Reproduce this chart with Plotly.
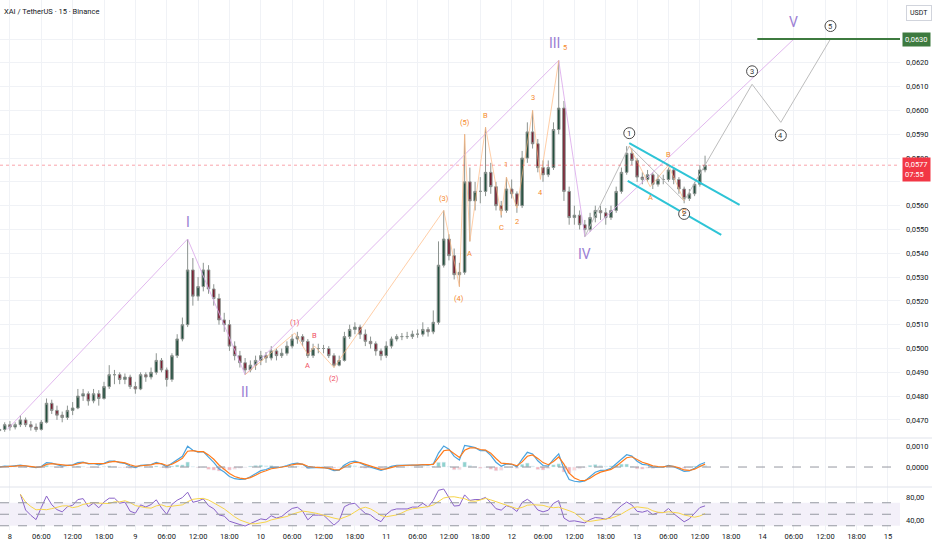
import pandas as pd
import plotly.graph_objects as go
from plotly.subplots import make_subplots

BASE = pd.Timestamp("2024-12-08 00:00")
FIRST_HOUR = -2  # first candle: 7th 22:00

# ---------------- price data (hourly OHLC) ----------------
opens = [0.04655, 0.04660, 0.04680, 0.04670, 0.04680, 0.04700, 0.04680, 0.04670, 0.04660, 0.04690,
         0.04770, 0.04740, 0.04720, 0.04710, 0.04740, 0.04750, 0.04800, 0.04810, 0.04780, 0.04810,
         0.04790, 0.04840, 0.04890, 0.04890, 0.04870, 0.04880, 0.04840, 0.04830, 0.04890, 0.04880,
         0.04900, 0.04950, 0.04910, 0.04870, 0.04970, 0.05040, 0.05100, 0.05330, 0.05220, 0.05260,
         0.05330, 0.05250, 0.05210, 0.05120, 0.05100, 0.05010, 0.04970, 0.04940, 0.04910, 0.04930,
         0.04950, 0.04970, 0.04960, 0.04990, 0.04970, 0.04980, 0.05010, 0.05040, 0.05050, 0.05030,
         0.04970, 0.05000, 0.05000, 0.05000, 0.04970, 0.04930, 0.04950, 0.05050, 0.05080, 0.05090,
         0.05060, 0.05030, 0.05020, 0.04990, 0.04970, 0.05010, 0.05040, 0.05050, 0.05050, 0.05050,
         0.05060, 0.05060, 0.05080, 0.05070, 0.05110, 0.05350, 0.05460, 0.05390, 0.05310, 0.05320,
         0.05700, 0.05620, 0.05660, 0.05660, 0.05740, 0.05680, 0.05600, 0.05580, 0.05670, 0.05650,
         0.05600, 0.05800, 0.05910, 0.05860, 0.05760, 0.05730, 0.05760, 0.05920, 0.06010, 0.05660,
         0.05550, 0.05560, 0.05520, 0.05500, 0.05550, 0.05580, 0.05570, 0.05550, 0.05580, 0.05660,
         0.05740, 0.05820, 0.05790, 0.05720, 0.05710, 0.05730, 0.05690, 0.05710, 0.05710, 0.05750,
         0.05710, 0.05670, 0.05630, 0.05650, 0.05690, 0.05750]
highs = [0.04680, 0.04690, 0.04695, 0.04690, 0.04720, 0.04710, 0.04695, 0.04685, 0.04700, 0.04790,
         0.04785, 0.04760, 0.04735, 0.04760, 0.04775, 0.04830, 0.04830, 0.04820, 0.04830, 0.04825,
         0.04860, 0.04930, 0.04910, 0.04900, 0.04895, 0.04890, 0.04860, 0.04900, 0.04900, 0.04920,
         0.04980, 0.04960, 0.04920, 0.04980, 0.05060, 0.05130, 0.05460, 0.05380, 0.05300, 0.05360,
         0.05350, 0.05270, 0.05230, 0.05150, 0.05120, 0.05030, 0.04990, 0.04960, 0.04950, 0.04970,
         0.04990, 0.04985, 0.05010, 0.05000, 0.05000, 0.05030, 0.05060, 0.05070, 0.05060, 0.05040,
         0.05020, 0.05020, 0.05015, 0.05010, 0.04980, 0.04970, 0.05070, 0.05100, 0.05110, 0.05100,
         0.05080, 0.05050, 0.05030, 0.05000, 0.05030, 0.05050, 0.05060, 0.05065, 0.05070, 0.05075,
         0.05080, 0.05110, 0.05090, 0.05160, 0.05450, 0.05580, 0.05480, 0.05420, 0.05360, 0.05900,
         0.05760, 0.05700, 0.05720, 0.05930, 0.05780, 0.05700, 0.05620, 0.05720, 0.05710, 0.05660,
         0.05830, 0.05950, 0.06000, 0.05880, 0.05790, 0.05790, 0.05950, 0.06210, 0.06040, 0.05680,
         0.05600, 0.05580, 0.05540, 0.05570, 0.05600, 0.05600, 0.05590, 0.05600, 0.05680, 0.05760,
         0.05850, 0.05840, 0.05800, 0.05740, 0.05750, 0.05740, 0.05730, 0.05730, 0.05760, 0.05760,
         0.05720, 0.05680, 0.05670, 0.05700, 0.05770, 0.05810]
lows = [0.04640, 0.04650, 0.04655, 0.04660, 0.04670, 0.04670, 0.04655, 0.04650, 0.04655, 0.04685,
        0.04725, 0.04700, 0.04690, 0.04700, 0.04720, 0.04745, 0.04780, 0.04760, 0.04770, 0.04760,
        0.04785, 0.04830, 0.04850, 0.04850, 0.04850, 0.04830, 0.04810, 0.04825, 0.04860, 0.04870,
        0.04890, 0.04900, 0.04840, 0.04860, 0.04960, 0.05030, 0.05090, 0.05180, 0.05200, 0.05240,
        0.05230, 0.05180, 0.05100, 0.05070, 0.04990, 0.04950, 0.04920, 0.04890, 0.04900, 0.04910,
        0.04930, 0.04940, 0.04950, 0.04950, 0.04960, 0.04970, 0.05000, 0.05020, 0.05010, 0.04960,
        0.04960, 0.04980, 0.04980, 0.04960, 0.04920, 0.04925, 0.04945, 0.05040, 0.05060, 0.05040,
        0.05010, 0.05000, 0.04970, 0.04950, 0.04960, 0.05000, 0.05030, 0.05035, 0.05040, 0.05040,
        0.05045, 0.05050, 0.05050, 0.05060, 0.05100, 0.05340, 0.05370, 0.05290, 0.05260, 0.05310,
        0.05450, 0.05580, 0.05610, 0.05640, 0.05650, 0.05580, 0.05550, 0.05570, 0.05630, 0.05570,
        0.05590, 0.05780, 0.05840, 0.05740, 0.05700, 0.05720, 0.05750, 0.05900, 0.05620, 0.05520,
        0.05520, 0.05500, 0.05470, 0.05490, 0.05530, 0.05540, 0.05520, 0.05540, 0.05570, 0.05650,
        0.05730, 0.05770, 0.05700, 0.05690, 0.05700, 0.05670, 0.05680, 0.05690, 0.05700, 0.05690,
        0.05650, 0.05610, 0.05620, 0.05640, 0.05680, 0.05740]
closes = [0.04660, 0.04680, 0.04670, 0.04680, 0.04700, 0.04680, 0.04670, 0.04660, 0.04690, 0.04770,
          0.04740, 0.04720, 0.04710, 0.04740, 0.04750, 0.04800, 0.04810, 0.04780, 0.04810, 0.04790,
          0.04840, 0.04890, 0.04890, 0.04870, 0.04880, 0.04840, 0.04830, 0.04890, 0.04880, 0.04900,
          0.04950, 0.04910, 0.04870, 0.04970, 0.05040, 0.05100, 0.05330, 0.05220, 0.05260, 0.05330,
          0.05250, 0.05210, 0.05120, 0.05100, 0.05010, 0.04970, 0.04940, 0.04910, 0.04930, 0.04950,
          0.04970, 0.04960, 0.04990, 0.04970, 0.04980, 0.05010, 0.05040, 0.05050, 0.05030, 0.04970,
          0.05000, 0.05000, 0.05000, 0.04970, 0.04930, 0.04950, 0.05050, 0.05080, 0.05090, 0.05060,
          0.05030, 0.05020, 0.04990, 0.04970, 0.05010, 0.05040, 0.05050, 0.05050, 0.05050, 0.05060,
          0.05060, 0.05080, 0.05070, 0.05110, 0.05350, 0.05460, 0.05390, 0.05310, 0.05320, 0.05700,
          0.05620, 0.05660, 0.05660, 0.05740, 0.05680, 0.05600, 0.05580, 0.05670, 0.05650, 0.05600,
          0.05800, 0.05910, 0.05860, 0.05760, 0.05730, 0.05760, 0.05920, 0.06010, 0.05660, 0.05550,
          0.05560, 0.05520, 0.05500, 0.05550, 0.05580, 0.05570, 0.05550, 0.05580, 0.05660, 0.05740,
          0.05820, 0.05790, 0.05720, 0.05710, 0.05730, 0.05690, 0.05710, 0.05710, 0.05750, 0.05710,
          0.05670, 0.05630, 0.05650, 0.05690, 0.05750, 0.05770]

# ---------------- wave drawings (hours from the 8th 00:00, prices) ----------------
major_hours = [-0.5, 34, 45, 105, 110, 150]
major_prices = [0.0466, 0.0546, 0.0489, 0.0621, 0.0547, 0.0630]
major_labels = ["", "I", "II", "III", "IV", "V"]

circle_hours = [110, 118.5, 129, 142, 147.5, 157]
circle_prices = [0.0547, 0.0585, 0.0562, 0.0611, 0.0595, 0.0630]
circle_labels = ["", "1", "2", "3", "4", "5"]

minor1_hours = [45, 54.5, 57, 58.3, 62]
minor1_prices = [0.0489, 0.05065, 0.04975, 0.0501, 0.0492]
minor1_labels = ["", "(1)", "A", "B", "(2)"]

minor2_hours = [62, 83, 86, 87]
minor2_prices = [0.0492, 0.0558, 0.0526, 0.0590]
minor2_labels = ["", "(3)", "(4)", "(5)"]

minor3_hours = [87, 88, 91, 94]
minor3_prices = [0.0590, 0.0545, 0.0593, 0.0556]
minor3_labels = ["", "A", "B", "C"]

minor4_hours = [94, 95, 97, 100, 101.5, 105]
minor4_prices = [0.0556, 0.0572, 0.0559, 0.0600, 0.0571, 0.0621]
minor4_labels = ["", "1", "2", "3", "4", "5"]

minor5_hours = [118.5, 122.5, 126, 129]
minor5_prices = [0.0585, 0.0568, 0.0577, 0.0562]
minor5_labels = ["", "A", "B", "C"]

channel_upper_hours = [118.5, 139.6]
channel_upper_prices = [0.05863, 0.05603]
channel_lower_hours = [118.2, 136.1]
channel_lower_prices = [0.05704, 0.05477]

target_hours = [143, 172]
target_prices = [0.0630, 0.0630]

price_ticks = [0.0470, 0.0480, 0.0490, 0.0500, 0.0510, 0.0520, 0.0530, 0.0540, 0.0550,
               0.0560, 0.0570, 0.0580, 0.0590, 0.0600, 0.0610, 0.0620, 0.0630]
time_tick_hours = list(range(0, 169, 6))

# ---------------------------------------------------------------------------------
def t(h):
    return BASE + pd.Timedelta(hours=h)

times = [t(FIRST_HOUR + i) for i in range(len(closes))]
cl = pd.Series(closes)

# MACD (12/26/9 on 15m, expressed per hour)
ema_fast = cl.ewm(alpha=0.487, adjust=False).mean()
ema_slow = cl.ewm(alpha=0.274, adjust=False).mean()
macd = ema_fast - ema_slow
signal = macd.ewm(alpha=0.59, adjust=False).mean()
hist = macd - signal
hist_colors = []
for i, v in enumerate(hist):
    prev = hist.iloc[i - 1] if i > 0 else v
    if v >= 0:
        hist_colors.append("#8fd3ce" if v >= prev else "#c9ece9")
    else:
        hist_colors.append("#f7b2b8" if v < prev else "#fcd5d8")

# RSI (smoothed, hourly); the first bars are warm-up and are not shown
delta = cl.diff().fillna(0)
gain = delta.clip(lower=0).ewm(alpha=1 / 7, adjust=False).mean()
loss = (-delta.clip(upper=0)).ewm(alpha=1 / 7, adjust=False).mean()
rsi = 100 - 100 / (1 + gain / loss.replace(0, 1e-9))
rsi = rsi.where(cl.index >= 4)
rsi_ma = rsi.rolling(5, min_periods=1).mean()

fig = make_subplots(rows=3, cols=1, shared_xaxes=True, vertical_spacing=0,
                    row_heights=[438, 49, 43])

fig.add_trace(go.Candlestick(
    x=times, open=opens, high=highs, low=lows, close=closes,
    increasing=dict(line=dict(color="#8d9490", width=1), fillcolor="#24503f"),
    decreasing=dict(line=dict(color="#8d9490", width=1), fillcolor="#7a1e31"),
    whiskerwidth=0, hoverinfo="skip", showlegend=False), row=1, col=1)

def path(hours, prices, color, width=1, dash=None):
    fig.add_trace(go.Scatter(x=[t(h) for h in hours], y=prices, mode="lines",
                             line=dict(color=color, width=width, dash=dash),
                             hoverinfo="skip", showlegend=False), row=1, col=1)

ORANGE_LINE = "rgba(255,185,130,0.7)"
path(major_hours, major_prices, "rgba(220,170,235,0.85)")
path(circle_hours, circle_prices, "#bdbdbd")
path(minor1_hours, minor1_prices, ORANGE_LINE)
path(minor2_hours, minor2_prices, ORANGE_LINE)
path(minor3_hours, minor3_prices, ORANGE_LINE)
path(minor4_hours, minor4_prices, ORANGE_LINE)
path(minor5_hours, minor5_prices, ORANGE_LINE)
path(channel_upper_hours, channel_upper_prices, "#2ec4d6", 2)
path(channel_lower_hours, channel_lower_prices, "#2ec4d6", 2)
path(target_hours, target_prices, "#3d7a3f", 2)

# MACD pane
fig.add_trace(go.Bar(x=times, y=hist, marker_color=hist_colors, width=2400000,
                     hoverinfo="skip", showlegend=False), row=2, col=1)
fig.add_trace(go.Scatter(x=times, y=macd, mode="lines", line=dict(color="#4aa3df", width=1.2),
                         hoverinfo="skip", showlegend=False), row=2, col=1)
fig.add_trace(go.Scatter(x=times, y=signal, mode="lines", line=dict(color="#ff7a1a", width=1.2),
                         hoverinfo="skip", showlegend=False), row=2, col=1)

# RSI pane
fig.add_trace(go.Scatter(x=times, y=rsi, mode="lines", line=dict(color="#8a63c9", width=1),
                         hoverinfo="skip", showlegend=False), row=3, col=1)
fig.add_trace(go.Scatter(x=times, y=rsi_ma, mode="lines", line=dict(color="#f7d54a", width=1),
                         hoverinfo="skip", showlegend=False), row=3, col=1)

x_range = [t(-1.9), t(170.3)]
tick_text = [str((BASE + pd.Timedelta(hours=h)).day) if h % 24 == 0 else f"{h % 24:02d}:00"
             for h in time_tick_hours]
GRID = "#f0f2f6"
FONT_FAMILY = "Roboto, Liberation Sans, sans-serif"
AX_FONT = dict(family=FONT_FAMILY, size=7.5, color="#131722")

for r in (1, 2, 3):
    fig.update_xaxes(row=r, col=1, range=x_range, type="date",
                     tickvals=[t(h) for h in time_tick_hours], ticktext=tick_text,
                     showgrid=True, gridcolor=GRID, gridwidth=1, zeroline=False,
                     showline=False, ticks="", rangeslider_visible=False,
                     showticklabels=(r == 3), tickfont=AX_FONT, fixedrange=True)

fig.update_yaxes(row=1, col=1, side="right", range=[0.04624, 0.06464],
                 tickvals=price_ticks,
                 ticktext=[("" if abs(v - 0.0570) < 1e-9 or abs(v - 0.0630) < 1e-9
                            else f"{v:.4f}".replace(".", ",")) for v in price_ticks],
                 showgrid=True, gridcolor=GRID, zeroline=False, ticks="",
                 tickfont=AX_FONT, ticklabelstandoff=5, fixedrange=True)
fig.update_yaxes(row=2, col=1, side="right", range=[-0.00095, 0.00138],
                 tickvals=[0.001, 0.0], ticktext=["0,0010", "0,0000"],
                 showgrid=False, zeroline=False, ticks="", tickfont=AX_FONT,
                 ticklabelstandoff=5, fixedrange=True)
fig.update_yaxes(row=3, col=1, side="right", range=[22.6, 97.4],
                 tickvals=[80, 40], ticktext=["80,00", "40,00"],
                 showgrid=False, zeroline=False, ticks="", tickfont=AX_FONT,
                 ticklabelstandoff=5, fixedrange=True)

shapes = []
# pane separators
shapes.append(dict(type="line", xref="paper", yref="paper", x0=0, x1=1.04,
                   y0=92 / 530, y1=92 / 530, line=dict(color="#e0e3eb", width=1)))
shapes.append(dict(type="line", xref="paper", yref="paper", x0=0, x1=1.04,
                   y0=43 / 530, y1=43 / 530, line=dict(color="#e0e3eb", width=1)))
# last price line
shapes.append(dict(type="line", xref="paper", yref="y", x0=0, x1=1, y0=closes[-1], y1=closes[-1],
                   line=dict(color="rgba(242,54,69,0.45)", width=1, dash="dot")))
# MACD zero line
shapes.append(dict(type="line", xref="paper", yref="y2", x0=0, x1=1, y0=0, y1=0,
                   line=dict(color="#9598a1", width=1, dash="dash")))
# RSI band
shapes.append(dict(type="rect", xref="paper", yref="y3", x0=0, x1=1, y0=30, y1=70,
                   fillcolor="rgba(126,87,194,0.09)", line=dict(width=0), layer="below"))
for lvl in (70, 50, 30):
    shapes.append(dict(type="line", xref="paper", yref="y3", x0=0, x1=1, y0=lvl, y1=lvl,
                       line=dict(color="#9598a1", width=1, dash="dash")))

annotations = []

def labels_for(hours, prices, texts, color, size, off, xshifts=None):
    for i, txt in enumerate(texts):
        if not txt:
            continue
        ref = prices[i - 1] if i > 0 else prices[i]
        up = prices[i] >= ref
        xs = xshifts[i] if xshifts else 0
        annotations.append(dict(x=t(hours[i]), y=prices[i], xref="x", yref="y", text=txt,
                                showarrow=False, yshift=off if up else -off, xshift=xs,
                                font=dict(family=FONT_FAMILY, size=size, color=color)))

PURPLE = "#9b7fd4"
ORANGE = "#f5892b"
RED = "#ef4f5f"
labels_for(major_hours, major_prices, major_labels, PURPLE, 14, 17, [0, 0, 0, -4, 0, 0])
labels_for(minor1_hours, minor1_prices, minor1_labels, RED, 7.5, 11)
labels_for(minor2_hours, minor2_prices, minor2_labels, ORANGE, 7.5, 12)
labels_for(minor3_hours, minor3_prices, minor3_labels, ORANGE, 7.5, 12)
labels_for(minor4_hours, minor4_prices, minor4_labels, ORANGE, 7.5, 13, [0, 0, 0, 0, 0, 6])
labels_for(minor5_hours, minor5_prices, minor5_labels, ORANGE, 7.5, 11)

# circled wave numbers
for i, txt in enumerate(circle_labels):
    if not txt:
        continue
    up = circle_prices[i] >= circle_prices[i - 1]
    off = 13 if up else -13
    shapes.append(dict(type="circle", xref="x", yref="y", xsizemode="pixel", ysizemode="pixel",
                       xanchor=t(circle_hours[i]), yanchor=circle_prices[i],
                       x0=-5.5, x1=5.5, y0=off - 5.5, y1=off + 5.5,
                       line=dict(color="#4a4a4a", width=1), fillcolor="white"))
    annotations.append(dict(x=t(circle_hours[i]), y=circle_prices[i], xref="x", yref="y",
                            text=txt, showarrow=False, yshift=off,
                            font=dict(family=FONT_FAMILY, size=7.5, color="#333333")))

# title and axis boxes
annotations.append(dict(xref="paper", yref="paper", x=0, y=1, xanchor="left", yanchor="top",
                        xshift=2, yshift=-5, showarrow=False, text="XAI / TetherUS · 15 · Binance",
                        font=dict(family=FONT_FAMILY, size=7.5, color="#131722")))
annotations.append(dict(xref="paper", yref="paper", x=1, y=1, xanchor="left", yanchor="top",
                        xshift=6, yshift=-5, showarrow=False, text="USDT",
                        bgcolor="white", bordercolor="#d1d4dc", borderwidth=1, borderpad=3,
                        font=dict(family=FONT_FAMILY, size=7, color="#131722")))
annotations.append(dict(xref="paper", yref="y", x=1, y=closes[-1], xanchor="left", yanchor="middle",
                        xshift=2, yshift=-4, showarrow=False, align="left",
                        text=f"{closes[-1]:.4f}".replace(".", ",") + "<br>07:55",
                        bgcolor="#f23645", borderpad=2,
                        font=dict(family=FONT_FAMILY, size=7.5, color="white")))
annotations.append(dict(xref="paper", yref="y", x=1, y=target_prices[0], xanchor="left",
                        yanchor="middle", xshift=2, showarrow=False,
                        text=f"{target_prices[0]:.4f}".replace(".", ","),
                        bgcolor="#3d7a3f", borderpad=2,
                        font=dict(family=FONT_FAMILY, size=7.5, color="white")))

fig.update_layout(width=932, height=550, margin=dict(l=0, r=32, t=0, b=20),
                  paper_bgcolor="white", plot_bgcolor="white", showlegend=False,
                  bargap=0, shapes=shapes, annotations=annotations, hovermode=False)

fig.write_html("out.html", config={"displayModeBar": False, "staticPlot": True},
               post_script="document.body.style.margin='0px';document.body.style.padding='0px';")
